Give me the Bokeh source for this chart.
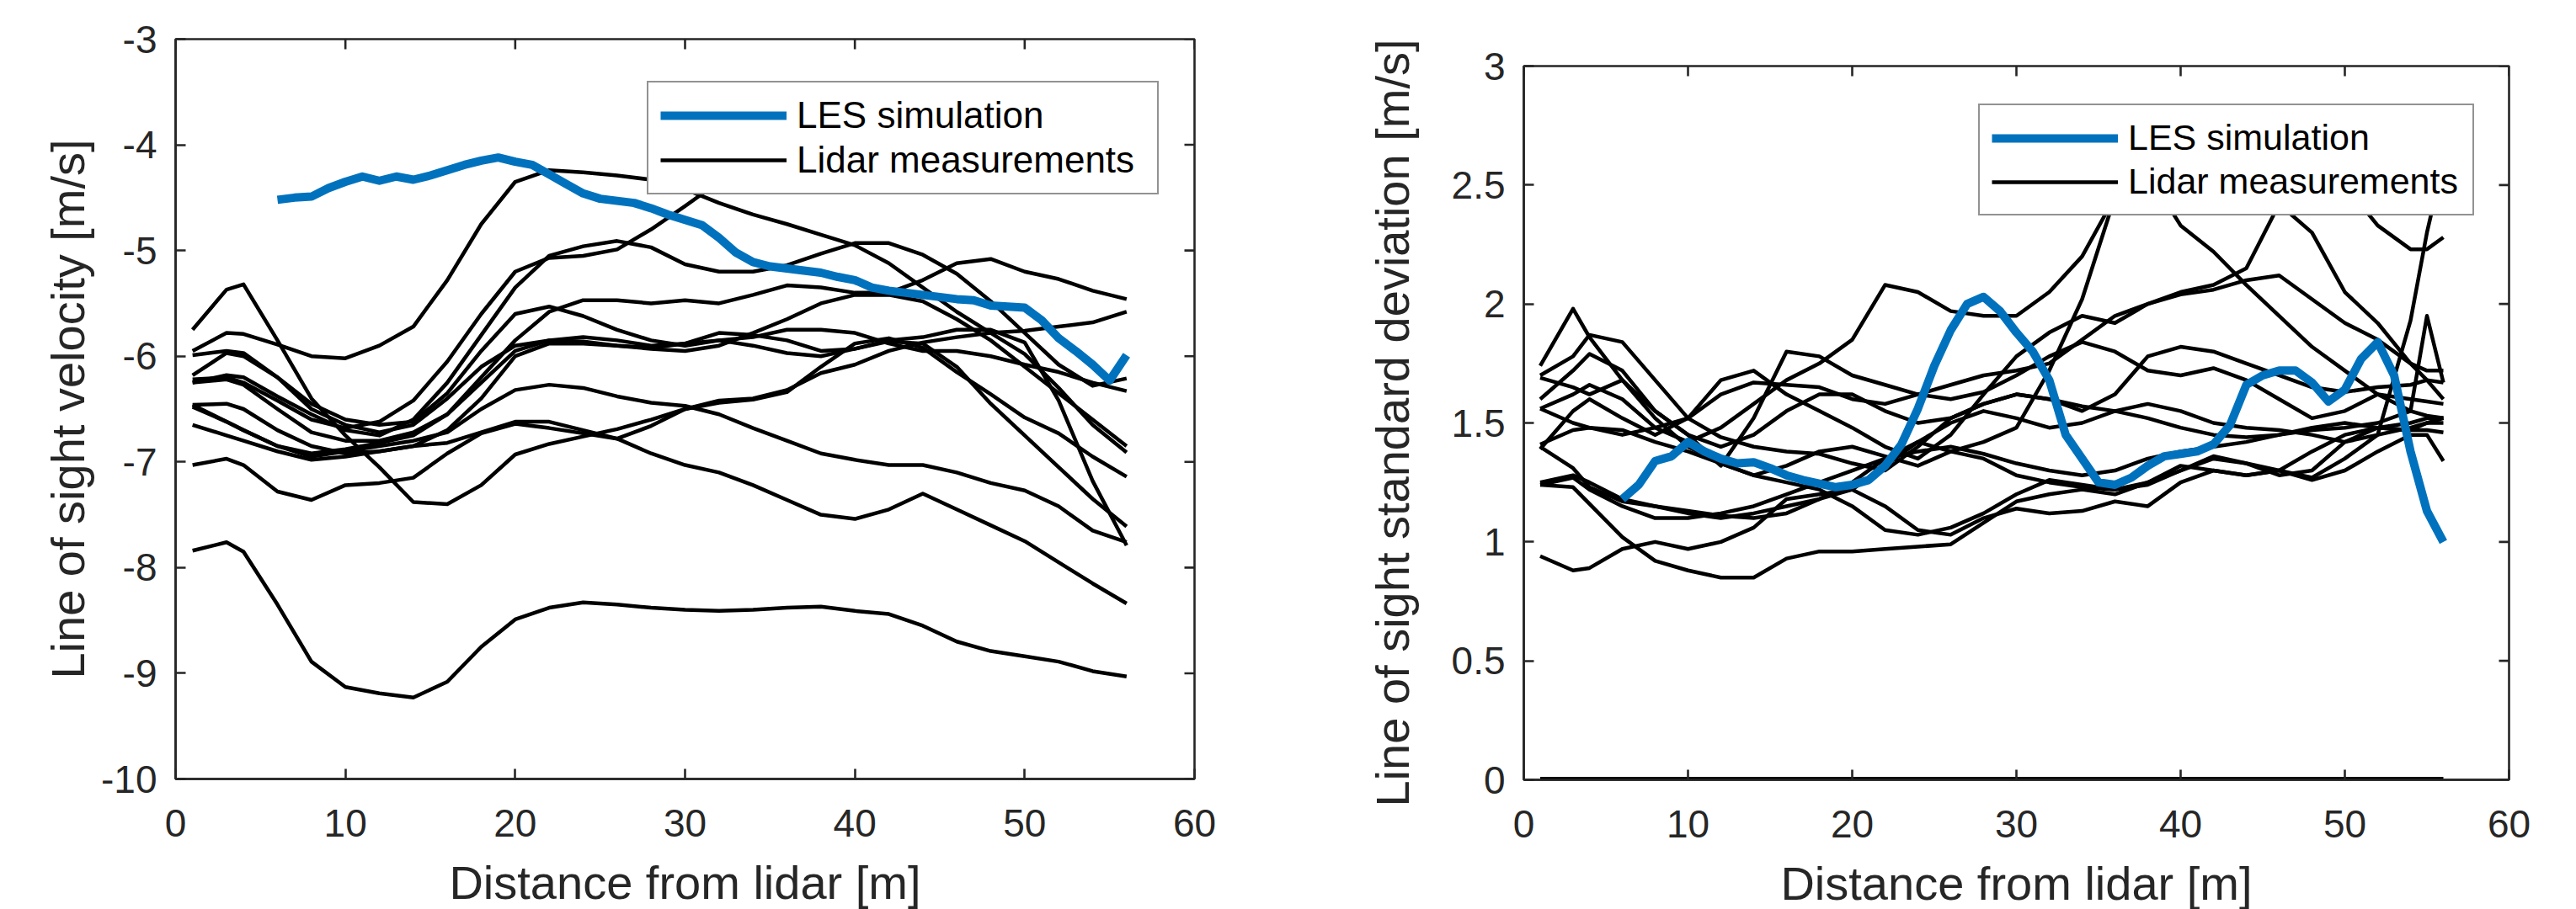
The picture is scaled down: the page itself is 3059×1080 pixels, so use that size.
import numpy as np
from bokeh.plotting import figure
from bokeh.layouts import row, column
from bokeh.models import (Range1d, FixedTicker, Legend, LegendItem,
                          NumeralTickFormatter, Spacer)
from bokeh.embed import file_html
from bokeh.resources import INLINE

# ---------------- data: left panel (line of sight velocity, m/s) ----------------
dist_vel = [1, 3, 4, 6, 8, 10, 12, 14, 16, 18, 20, 22, 24, 26, 28, 30, 32, 34, 36, 38,
            40, 42, 44, 46, 48, 50, 52, 54, 56]
vel_a = [-7.84, -7.76, -7.85, -8.35, -8.89, -9.13, -9.19, -9.23, -9.08, -8.75, -8.49, -8.38, -8.33, -8.35, -8.38,
         -8.40, -8.41, -8.40, -8.38, -8.37, -8.41, -8.44, -8.55, -8.70, -8.79, -8.84, -8.89, -8.98, -9.03]
vel_b = [-7.03, -6.97, -7.03, -7.28, -7.36, -7.22, -7.20, -7.15, -6.92, -6.73, -6.64, -6.68, -6.73, -6.78, -6.66,
         -6.50, -6.42, -6.40, -6.32, -6.16, -6.08, -5.95, -5.87, -5.82, -5.78, -5.76, -5.72, -5.68, -5.58]
vel_c = [-5.75, -5.37, -5.32, -5.85, -6.40, -6.75, -7.05, -7.38, -7.40, -7.22, -6.93, -6.83, -6.76, -6.69, -6.60,
         -6.50, -6.44, -6.41, -6.34, -6.10, -5.88, -5.83, -5.92, -6.15, -6.36, -6.58, -6.73, -6.95, -7.14]
vel_d = [-6.46, -6.62, -6.70, -6.85, -6.95, -6.90, -6.85, -6.80, -6.72, -6.50, -6.32, -6.27, -6.30, -6.38, -6.44,
         -6.47, -6.55, -6.68, -6.80, -6.92, -6.98, -7.03, -7.03, -7.10, -7.20, -7.27, -7.42, -7.65, -7.76]
vel_e = [-6.65, -6.75, -6.80, -6.90, -6.98, -6.95, -6.90, -6.85, -6.82, -6.72, -6.62, -6.62, -6.70, -6.78, -6.92,
         -7.03, -7.10, -7.22, -7.36, -7.50, -7.54, -7.45, -7.30, -7.45, -7.60, -7.75, -7.95, -8.15, -8.34]
vel_p = [-5.95, -5.78, -5.79, -5.89, -6.00, -6.02, -5.90, -5.72, -5.28, -4.75, -4.35, -4.24, -4.26, -4.29, -4.33,
         -4.42, -4.55, -4.66, -4.75, -4.85, -4.95, -5.12, -5.35, -5.58, -5.78, -5.98, -6.30, -6.65, -6.91]
nan = float("nan")
vel_q = [-6.22, -6.20, -6.25, -6.42, -6.60, -6.68, -6.62, -6.42, -6.05, -5.60, -5.20, -5.07, -5.05, -4.99, -4.80,
         -4.58, -4.35, nan, nan, nan, nan, nan, nan, nan, nan, nan, nan, nan, nan]
vel_r = [-6.25, -6.18, -6.20, -6.38, -6.55, -6.70, -6.75, -6.60, -6.25, -5.80, -5.35, -5.05, -4.96, -4.91, -4.97,
         -5.13, -5.20, -5.20, -5.14, -5.03, -4.93, -4.93, -5.04, -5.22, -5.48, -5.78, -6.08, -6.28, -6.21]
vel_s = [-6.18, -5.97, -6.00, -6.20, -6.45, -6.60, -6.65, -6.62, -6.35, -5.95, -5.60, -5.53, -5.62, -5.75, -5.85,
         -5.90, -5.85, -5.82, -5.75, -5.75, -5.78, -5.88, -5.95, -5.95, -6.00, -6.08, -6.15, -6.25, -6.33]
vel_t = [-6.48, -6.62, -6.70, -6.85, -6.92, -6.88, -6.82, -6.75, -6.55, -6.20, -5.85, -5.58, -5.47, -5.47, -5.50,
         -5.47, -5.50, -5.42, -5.33, -5.35, -5.40, -5.40, -5.28, -5.12, -5.08, -5.20, -5.27, -5.38, -5.46]
vel_u = [-5.99, -5.95, -5.97, -6.20, -6.50, -6.65, -6.72, -6.65, -6.40, -6.10, -5.90, -5.85, -5.86, -5.90, -5.93,
         -5.95, -5.90, -5.78, -5.65, -5.50, -5.42, -5.42, -5.48, -5.65, -5.85, -6.10, -6.35, -6.60, -6.85]
vel_v = [-6.46, -6.45, -6.50, -6.70, -6.85, -6.92, -6.90, -6.85, -6.70, -6.40, -6.00, -5.88, -5.88, -5.90, -5.92,
         -5.88, -5.78, -5.80, -5.85, -5.95, -5.93, -5.85, -5.82, -5.75, -5.75, -5.87, -6.42, -7.18, -7.79]
vel_w = [-6.25, -6.22, -6.27, -6.50, -6.72, -6.80, -6.80, -6.72, -6.55, -6.25, -5.95, -5.85, -5.82, -5.85, -5.90,
         -5.88, -5.85, -5.90, -5.97, -6.00, -5.93, -5.86, -5.88, -6.10, -6.45, -6.75, -7.05, -7.35, -7.61]
lidar_velocity = [vel_a, vel_b, vel_c, vel_d, vel_e, vel_p, vel_q, vel_r, vel_s, vel_t, vel_u, vel_v, vel_w]

les_dist = [6, 7, 8, 9, 10, 11, 12, 13, 14, 15, 16, 17, 18, 19, 20, 21, 22, 23, 24, 25, 26, 27, 28, 29, 30, 31,
            32, 33, 34, 35, 36, 37, 38, 39, 40, 41, 42, 43, 44, 45, 46, 47, 48, 49, 50, 51, 52, 53, 54, 55, 56]
les_velocity = [-4.52, -4.50, -4.49, -4.41, -4.35, -4.30, -4.34, -4.30, -4.33, -4.29, -4.24, -4.19, -4.15, -4.12,
                -4.16, -4.19, -4.28, -4.37, -4.46, -4.51, -4.53, -4.55, -4.60, -4.66, -4.71, -4.76, -4.88, -5.02,
                -5.11, -5.15, -5.17, -5.19, -5.21, -5.25, -5.28, -5.35, -5.38, -5.40, -5.42, -5.44, -5.46, -5.47,
                -5.52, -5.53, -5.54, -5.66, -5.83, -5.95, -6.08, -6.23, -5.99]

# ---------------- data: right panel (line of sight standard deviation, m/s) ----------------
dist_std = [1, 3, 4, 6, 8, 10, 12, 14, 16, 18, 20, 22, 24, 26, 28, 30, 32, 34, 36, 38,
            40, 42, 44, 46, 48, 50, 52, 54, 55, 56]
std_1 = [1.74, 1.98, 1.86, 1.68, 1.52, 1.40, 1.33, 1.28, 1.25, 1.22, 1.15, 1.05, 1.03, 1.06, 1.12,
         1.20, 1.26, 1.24, 1.22, 1.25, 1.30, 1.36, 1.33, 1.28, 1.30, 1.42, 1.48, 1.47, 1.50, 1.52]
std_2 = [1.70, 1.78, 1.87, 1.84, 1.68, 1.52, 1.44, 1.40, 1.38, 1.37, 1.33, 1.30, 1.40, 1.52, 1.58,
         1.62, 1.60, 1.57, 1.55, 1.52, 1.48, 1.45, 1.44, 1.45, 1.48, 1.50, 1.48, 1.47, 1.47, 1.46]
std_3 = [1.60, 1.72, 1.79, 1.72, 1.55, 1.45, 1.32, 1.52, 1.80, 1.78, 1.70, 1.66, 1.62, 1.60, 1.63,
         1.70, 1.78, 1.84, 1.80, 1.72, 1.70, 1.73, 1.68, 1.60, 1.52, 1.55, 1.62, 1.60, 1.59, 1.58]
std_4 = [1.56, 1.62, 1.66, 1.60, 1.48, 1.42, 1.48, 1.58, 1.68, 1.75, 1.85, 2.08, 2.05, 1.97, 1.95,
         1.95, 2.05, 2.20, 2.45, 2.55, 2.33, 2.22, 2.08, 1.95, 1.82, 1.72, 1.62, 1.55, 1.53, 1.52]
std_5 = [1.41, 1.47, 1.48, 1.47, 1.42, 1.38, 1.33, 1.28, 1.32, 1.38, 1.40, 1.36, 1.32, 1.38, 1.42,
         1.48, 1.72, 2.02, 2.45, 2.60, 2.65, 2.62, 2.60, 2.58, 2.55, 2.50, 2.33, 2.23, 2.23, 2.28]
std_6 = [1.39, 1.55, 1.60, 1.52, 1.45, 1.52, 1.68, 1.72, 1.62, 1.55, 1.48, 1.40, 1.35, 1.45, 1.62,
         1.78, 1.88, 1.95, 1.92, 2.00, 2.05, 2.08, 2.15, 2.42, 2.30, 2.05, 1.92, 1.75, 1.68, 1.60]
std_7 = [1.25, 1.28, 1.25, 1.18, 1.15, 1.12, 1.10, 1.12, 1.15, 1.18, 1.22, 1.32, 1.42, 1.50, 1.55,
         1.52, 1.48, 1.50, 1.55, 1.58, 1.55, 1.50, 1.48, 1.47, 1.45, 1.42, 1.45, 1.93, 2.30, 2.60]
std_8 = [1.24, 1.27, 1.22, 1.15, 1.10, 1.10, 1.12, 1.15, 1.20, 1.25, 1.30, 1.35, 1.38, 1.40, 1.37,
         1.33, 1.30, 1.28, 1.30, 1.35, 1.38, 1.40, 1.42, 1.45, 1.47, 1.48, 1.50, 1.55, 1.95, 1.67]
std_9 = [1.24, 1.23, 1.16, 1.02, 0.92, 0.88, 0.85, 0.85, 0.93, 0.96, 0.96, 0.97, 0.98, 0.99, 1.08,
         1.17, 1.20, 1.22, 1.20, 1.25, 1.32, 1.30, 1.28, 1.30, 1.38, 1.45, 1.48, 1.50, 1.52, 1.52]
std_10 = [0.94, 0.88, 0.89, 0.97, 1.00, 0.97, 1.00, 1.06, 1.18, 1.20, 1.22, 1.15, 1.05, 1.03, 1.10,
          1.14, 1.12, 1.13, 1.17, 1.15, 1.25, 1.30, 1.28, 1.30, 1.27, 1.35, 1.45, 1.48, 1.50, 1.50]
std_11 = [1.40, 1.31, 1.23, 1.17, 1.15, 1.13, 1.11, 1.10, 1.12, 1.18, 1.25, 1.35, 1.42, 1.38, 1.35,
          1.28, 1.25, 1.23, 1.22, 1.24, 1.30, 1.35, 1.33, 1.30, 1.26, 1.30, 1.38, 1.45, 1.45, 1.34]
std_12 = [1.56, 1.50, 1.48, 1.45, 1.48, 1.52, 1.62, 1.67, 1.66, 1.65, 1.60, 1.58, 1.62, 1.66, 1.70,
          1.72, 1.75, 1.85, 1.95, 2.00, 2.04, 2.06, 2.10, 2.12, 2.02, 1.92, 1.85, 1.75, 1.72, 1.72]
std_13 = [1.69, 1.65, 1.62, 1.68, 1.55, 1.45, 1.40, 1.45, 1.55, 1.62, 1.62, 1.55, 1.50, 1.52, 1.58,
          1.62, 1.60, 1.55, 1.62, 1.78, 1.82, 1.80, 1.75, 1.70, 1.65, 1.63, 1.65, 1.66, 1.68, 1.67]
std_14 = [0.0, 0.0, 0.0, 0.0, 0.0, 0.0, 0.0, 0.0, 0.0, 0.0, 0.0, 0.0, 0.0, 0.0, 0.0,
          0.0, 0.0, 0.0, 0.0, 0.0, 0.0, 0.0, 0.0, 0.0, 0.0, 0.0, 0.0, 0.0, 0.0, 0.0]
lidar_std = [std_1, std_2, std_3, std_4, std_5, std_6, std_7, std_8, std_9, std_10, std_11, std_12, std_13]
lidar_std_zero = std_14

les_std = [1.18, 1.24, 1.34, 1.36, 1.42, 1.38, 1.35, 1.33, 1.335, 1.31, 1.28, 1.26, 1.245, 1.23, 1.24, 1.26,
           1.32, 1.41, 1.56, 1.74, 1.89, 2.00, 2.03, 1.97, 1.88, 1.80, 1.68, 1.45, 1.35, 1.25, 1.24, 1.27,
           1.32, 1.36, 1.37, 1.38, 1.41, 1.49, 1.66, 1.70, 1.72, 1.72, 1.67, 1.59, 1.64, 1.77, 1.84, 1.70,
           1.38, 1.13, 1.00]

x_ticks = [0, 10, 20, 30, 40, 50, 60]
vel_ticks = [-10, -9, -8, -7, -6, -5, -4, -3]
std_ticks = [0, 0.5, 1, 1.5, 2, 2.5, 3]

# ---------------- styling ----------------
FONT = "Liberation Sans"
AX = "#262626"
BLUE = "#0072BD"
TICK_PX = "46px"
LABEL_PX = "56px"
TICK_LEN = 12


def style_axis(ax, ticks, standoff):
    ax.ticker = FixedTicker(ticks=ticks)
    ax.formatter = NumeralTickFormatter(format="0.[0]")
    ax.axis_line_color = AX
    ax.axis_line_width = 2.6
    ax.major_tick_line_color = AX
    ax.major_tick_line_width = 2.6
    ax.major_tick_in = TICK_LEN
    ax.major_tick_out = 0
    ax.minor_tick_line_color = None
    ax.major_label_text_font = FONT
    ax.major_label_text_font_size = TICK_PX
    ax.major_label_text_color = AX
    ax.major_label_standoff = standoff
    ax.axis_label_text_font = FONT
    ax.axis_label_text_font_size = LABEL_PX
    ax.axis_label_text_font_style = "normal"
    ax.axis_label_text_color = AX


def make_panel(frame_w, frame_h, yr, border_left, border_top, border_right, border_bottom):
    p = figure(frame_width=frame_w, frame_height=frame_h,
               x_range=Range1d(0, 60), y_range=Range1d(*yr),
               output_backend="svg", toolbar_location=None,
               min_border_left=border_left, min_border_top=border_top,
               min_border_right=border_right, min_border_bottom=border_bottom,
               background_fill_color="white", border_fill_color="white")
    p.xgrid.visible = False
    p.ygrid.visible = False
    p.outline_line_color = AX
    p.outline_line_width = 2.6
    return p


def add_box_ticks(p, yticks, y_top, x_right):
    # MATLAB-style inward ticks on the top and right sides of the box
    # (a dash marker centred on the box edge; the half outside the frame is clipped)
    p.scatter(x_ticks, [y_top] * len(x_ticks), marker="dash", size=2 * TICK_LEN, angle=np.pi / 2,
              line_color=AX, line_width=2.6)
    p.scatter([x_right] * len(yticks), yticks, marker="dash", size=2 * TICK_LEN,
              line_color=AX, line_width=2.6)


def add_legend(p, blue_r, black_r, loc, font_px, min_label_w):
    leg = Legend(items=[LegendItem(label="LES simulation", renderers=[blue_r]),
                        LegendItem(label="Lidar measurements", renderers=[black_r])],
                 location=loc, margin=0, padding=14, spacing=3,
                 glyph_width=150, glyph_height=40, label_standoff=12, label_width=min_label_w,
                 label_text_font=FONT, label_text_font_size=font_px, label_text_color="black",
                 border_line_color=AX, border_line_width=2.6,
                 background_fill_color="white", background_fill_alpha=1.0)
    p.add_layout(leg)


TOP = 46      # top border shared by both panels
BOTTOM = 152  # bottom border shared by both panels

# ---------------- left panel ----------------
p1 = make_panel(1210, 879, (-10, -3), 208, TOP, 82, BOTTOM)
style_axis(p1.xaxis[0], x_ticks, standoff=36)
style_axis(p1.yaxis[0], vel_ticks, standoff=22)
p1.xaxis[0].axis_label = "Distance from lidar [m]"
p1.xaxis[0].axis_label_standoff = 20
p1.yaxis[0].axis_label = "Line of sight velocity [m/s]"
p1.yaxis[0].axis_label_standoff = 5

black1 = []
for series in lidar_velocity:
    black1.append(p1.line(np.array(dist_vel, dtype=float), np.array(series, dtype=float),
                          line_color="black", line_width=4.5, line_join="round"))
blue1 = p1.line(les_dist, les_velocity, line_color=BLUE, line_width=10, line_join="round")
add_box_ticks(p1, vel_ticks, vel_ticks[-1], x_ticks[-1])
add_legend(p1, blue1, black1[0], (560, 694), "44px", 414)

# ---------------- right panel ----------------
p2 = make_panel(1170, 848, (0, 3), 309, TOP, 60, BOTTOM)
style_axis(p2.xaxis[0], x_ticks, standoff=36)
style_axis(p2.yaxis[0], std_ticks, standoff=22)
p2.xaxis[0].axis_label = "Distance from lidar [m]"
p2.xaxis[0].axis_label_standoff = 20
p2.yaxis[0].axis_label = "Line of sight standard deviation [m/s]"
p2.yaxis[0].axis_label_standoff = 36

black2 = []
for series in lidar_std:
    black2.append(p2.line(np.array(dist_std, dtype=float), np.array(series, dtype=float),
                          line_color="black", line_width=4.5, line_join="round"))
p2.line(np.array(dist_std, dtype=float), np.array(lidar_std_zero, dtype=float),
        line_color="black", line_width=7)
blue2 = p2.line(les_dist, les_std, line_color=BLUE, line_width=10, line_join="round")
add_box_ticks(p2, std_ticks, std_ticks[-1], x_ticks[-1])
add_legend(p2, blue2, black2[0], (540, 670), "43px", 395)

layout = row(p1, column(Spacer(width=1539, height=32), p2))
open("out.html", "w").write(file_html(layout, INLINE))
